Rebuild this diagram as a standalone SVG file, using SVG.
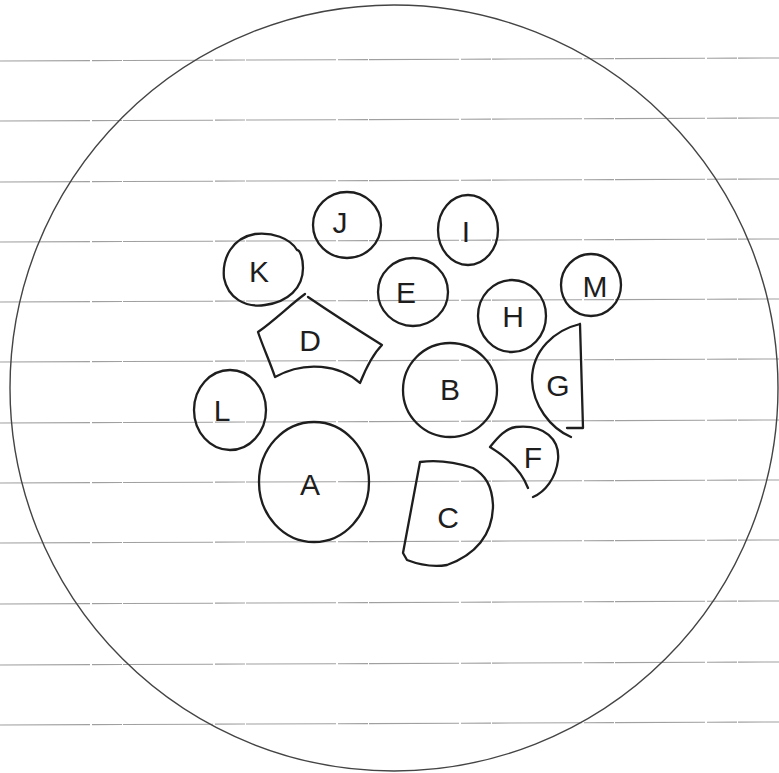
<svg xmlns="http://www.w3.org/2000/svg" width="779" height="773" viewBox="0 0 779 773">
<style>
.rule{stroke:#a0a0a0;stroke-width:1.1;stroke-dasharray:90 2 30 1;fill:none}
.outer{fill:none;stroke:#444;stroke-width:1.4}
.shape{fill:none;stroke:#1e1e1e;stroke-width:2.3;stroke-linecap:round;stroke-linejoin:round}
.lbl{font-family:"Liberation Sans","DejaVu Sans",sans-serif;font-size:30px;fill:#1e1e1e;text-anchor:middle;dominant-baseline:central}
</style>
<rect width="779" height="773" fill="#ffffff"/>
<g id="ruled-lines">
<line class="rule" x1="0" y1="61" x2="779" y2="58"/>
<line class="rule" x1="0" y1="121" x2="779" y2="118"/>
<line class="rule" x1="0" y1="182" x2="779" y2="179"/>
<line class="rule" x1="0" y1="242" x2="779" y2="239"/>
<line class="rule" x1="0" y1="302" x2="779" y2="299"/>
<line class="rule" x1="0" y1="362" x2="779" y2="359"/>
<line class="rule" x1="0" y1="423" x2="779" y2="420"/>
<line class="rule" x1="0" y1="483" x2="779" y2="480"/>
<line class="rule" x1="0" y1="543" x2="779" y2="540"/>
<line class="rule" x1="0" y1="604" x2="779" y2="601"/>
<line class="rule" x1="0" y1="665" x2="779" y2="662"/>
<line class="rule" x1="0" y1="725" x2="779" y2="722"/>
</g>
<g id="outer-circle">
<ellipse class="outer" cx="394" cy="388" rx="384" ry="383"/>
</g>
<g id="connectors"></g>
<g id="node-J">
<ellipse class="shape" cx="347" cy="225" rx="34" ry="33"/>
<text class="lbl" x="340" y="222" font-size="28">J</text>
</g>
<g id="node-K">
<path class="shape" d="M297,250 C290,238 272,232 255,234 C232,238 222,258 224,278 C228,298 245,308 265,305 C288,302 303,288 303,268 C303,258 300,250 297,250 Z"/>
<text class="lbl" x="259" y="271" font-size="28">K</text>
</g>
<g id="node-D">
<path class="shape" d="M258,332 C275,320 290,305 305,294 M308,297 C330,312 350,325 382,345 C372,355 366,368 360,383 C340,365 305,360 275,377 C270,362 263,347 258,332"/>
<text class="lbl" x="310" y="340" font-size="26">D</text>
</g>
<g id="node-E">
<ellipse class="shape" cx="413" cy="292" rx="35" ry="34"/>
<text class="lbl" x="406" y="292" font-size="30">E</text>
</g>
<g id="node-I">
<ellipse class="shape" cx="468" cy="230" rx="30" ry="35"/>
<text class="lbl" x="466" y="231" font-size="28" font-family="Liberation Serif, serif">I</text>
</g>
<g id="node-H">
<ellipse class="shape" cx="512" cy="316" rx="34" ry="36"/>
<text class="lbl" x="513" y="316" font-size="28">H</text>
</g>
<g id="node-M">
<ellipse class="shape" cx="591" cy="285" rx="30" ry="31"/>
<text class="lbl" x="595" y="286" font-size="24">M</text>
</g>
<g id="node-G">
<path class="shape" d="M580,324 L583,428 L567,428 M580,324 C555,330 532,350 532,380 C533,405 550,428 571,437"/>
<text class="lbl" x="558" y="385" font-size="32">G</text>
</g>
<g id="node-B">
<ellipse class="shape" cx="450" cy="390" rx="47" ry="47"/>
<text class="lbl" x="450" y="389" font-size="30">B</text>
</g>
<g id="node-F">
<path class="shape" d="M490,447 C498,437 506,428 516,427 C545,424 560,440 558,460 C556,478 545,492 533,497 M490,447 C508,458 522,472 528,488"/>
<text class="lbl" x="533" y="457" font-size="32">F</text>
</g>
<g id="node-L">
<ellipse class="shape" cx="230" cy="410" rx="36" ry="40"/>
<text class="lbl" x="222" y="410" font-size="30">L</text>
</g>
<g id="node-A">
<ellipse class="shape" cx="314" cy="482" rx="55" ry="60"/>
<text class="lbl" x="310" y="484" font-size="46">A</text>
</g>
<g id="node-C">
<path class="shape" d="M420,462 L403,553 L407,560 C420,565 435,567 447,565 C475,555 493,535 493,505 C492,485 485,475 473,468 C455,462 435,460 420,462 Z"/>
<text class="lbl" x="448" y="517" font-size="32">C</text>
</g>
</svg>
